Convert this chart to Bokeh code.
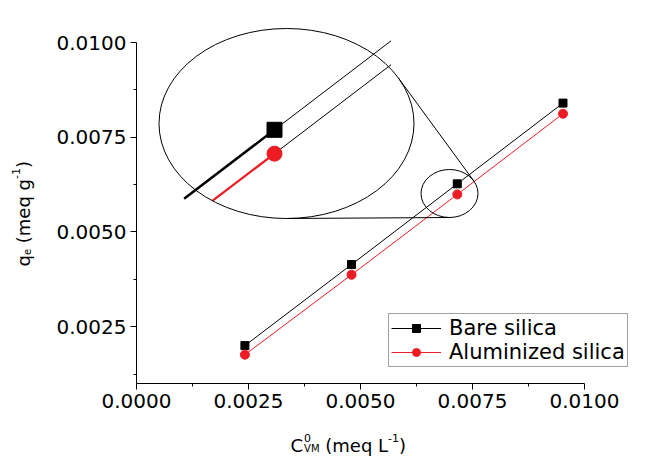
import math
from bokeh.plotting import figure
from bokeh.models import (Range1d, FixedTicker, PrintfTickFormatter, Label,
                          Legend, LegendItem, LinearAxis)
from bokeh.embed import file_html
from bokeh.resources import INLINE

# ---------------- data ----------------
c0_vm = [0.00242, 0.00480, 0.00716, 0.00952]          # C0_VM (meq/L)
qe_bare = [0.00200, 0.00414, 0.00627, 0.00840]         # Bare silica
qe_alum = [0.00176, 0.00387, 0.00599, 0.00812]         # Aluminized silica
x_ticks = [0.0, 0.0025, 0.005, 0.0075, 0.01]
x_minor = [0.00125, 0.00375, 0.00625, 0.00875]
y_ticks = [0.0025, 0.005, 0.0075, 0.01]
y_minor = [0.00125, 0.00375, 0.00625, 0.00875]
series_names = ["Bare silica", "Aluminized silica"]

# ---------------- layout (frame covers whole canvas; axes fixed inside) ----------------
W, H = 665, 456
AX_L, AX_R = 136, 584        # pixel x of 0 and 0.01
AX_B, AX_T = 383, 42         # pixel y of 0.001 and 0.01
PX_X = 0.01 / (AX_R - AX_L)
PX_Y = 0.009 / (AX_B - AX_T)
RED = "#ED1C24"
FONT = "DejaVu Sans"


def xd(px):
    return (px - AX_L) * PX_X


def yd(py):
    return 0.001 + (AX_B - py) * PX_Y


p = figure(width=W, height=H, output_backend="svg", toolbar_location=None,
           x_range=Range1d(xd(0), xd(W)), y_range=Range1d(yd(H), yd(0)),
           x_axis_location=None, y_axis_location=None,
           min_border_left=0, min_border_right=0,
           min_border_top=0, min_border_bottom=0)
p.outline_line_color = None
p.background_fill_color = "white"
p.border_fill_color = "white"
for g in p.grid:
    g.visible = False

xaxis = LinearAxis(fixed_location=0.001)
yaxis = LinearAxis(fixed_location=0.0)
p.add_layout(xaxis, "below")
p.add_layout(yaxis, "left")

for ax, ticks, minor, bnds in ((xaxis, x_ticks, x_minor, (0.0, 0.01)),
                               (yaxis, y_ticks, y_minor, (0.001, 0.01))):
    ax.ticker = FixedTicker(ticks=ticks, minor_ticks=minor)
    ax.formatter = PrintfTickFormatter(format="%.4f")
    ax.bounds = bnds
    ax.axis_line_color = "black"
    ax.axis_line_width = 1
    ax.major_tick_line_color = "black"
    ax.minor_tick_line_color = "black"
    ax.major_tick_in = 0
    ax.major_tick_out = 6
    ax.minor_tick_in = 0
    ax.minor_tick_out = 3
    ax.major_label_text_font = FONT
    ax.major_label_text_font_size = "20px"
    ax.major_label_text_color = "black"
    ax.major_label_standoff = 4

# ---------------- main series ----------------
l1 = p.line(c0_vm, qe_bare, line_color="black", line_width=1)
s1 = p.scatter(c0_vm, qe_bare, marker="square", size=8,
               fill_color="black", line_color="black")
l2 = p.line(c0_vm, qe_alum, line_color=RED, line_width=1)
s2 = p.scatter(c0_vm, qe_alum, marker="circle", size=9,
               fill_color=RED, line_color=RED)

# ---------------- inset (magnified view of 3rd point) ----------------
K = 2.25
IAX, IAY = xd(274), yd(129.3)
x3, yb3, ya3 = c0_vm[2], qe_bare[2], qe_alum[2]


def ix(x):
    return IAX + K * (x - x3)


def iy(y):
    return IAY + K * (y - yb3)


def along(xa, ya, xb, yb, f):
    return xa + f * (xb - xa), ya + f * (yb - ya)


bx0, by0 = along(ix(x3), iy(yb3), ix(c0_vm[1]), iy(qe_bare[1]), 0.38)
p.line([bx0, ix(x3)], [by0, iy(yb3)], line_color="black", line_width=2.5)
bx1, by1 = along(ix(x3), iy(yb3), ix(c0_vm[3]), iy(qe_bare[3]), 0.49)
p.line([ix(x3), bx1], [iy(yb3), by1], line_color="black", line_width=1)
rx0, ry0 = along(ix(x3), iy(ya3), ix(c0_vm[1]), iy(qe_alum[1]), 0.26)
p.line([rx0, ix(x3)], [ry0, iy(ya3)], line_color=RED, line_width=2.2)
rx1, ry1 = along(ix(x3), iy(ya3), ix(c0_vm[3]), iy(qe_alum[3]), 0.49)
p.line([ix(x3), rx1], [iy(ya3), ry1], line_color="black", line_width=1)
p.scatter([ix(x3)], [iy(yb3)], marker="square", size=15,
          fill_color="black", line_color="black")
p.scatter([ix(x3)], [iy(ya3)], marker="circle", size=15,
          fill_color=RED, line_color=RED)

E1 = (286.0, 123.0, 127.5, 95.0)   # big lens: cx, cy, a, b (pixels)
E2 = (449.0, 193.0, 28.5, 24.0)    # small zoom ring
for cx, cy, a, b in (E1, E2):
    p.ellipse(x=[xd(cx)], y=[yd(cy)], width=[2 * a * PX_X],
              height=[2 * b * PX_Y],
              fill_color=None, line_color="black", line_width=1)


def support(e, t):
    cx, cy, a, b = e
    return math.sqrt((a * math.cos(t)) ** 2 + (b * math.sin(t)) ** 2)


def f(t):
    return (math.cos(t) * (E1[0] - E2[0]) + math.sin(t) * (E1[1] - E2[1])
            + support(E1, t) - support(E2, t))


lo, hi = math.radians(-70), math.radians(-20)
for _ in range(60):
    mid = 0.5 * (lo + hi)
    if f(lo) * f(mid) <= 0:
        hi = mid
    else:
        lo = mid
t = 0.5 * (lo + hi)


def tpt(e, t):
    cx, cy, a, b = e
    s = support(e, t)
    return cx + a * a * math.cos(t) / s, cy + b * b * math.sin(t) / s


pa, pb = tpt(E1, t), tpt(E2, t)
p.line([xd(pa[0]), xd(pb[0])], [yd(pa[1]), yd(pb[1])],
       line_color="black", line_width=1)
p.line([xd(E1[0]), xd(E2[0])], [yd(E1[1] + E1[3]), yd(E2[1] + E2[3])],
       line_color="black", line_width=1)

# ---------------- legend ----------------
legend = Legend(items=[LegendItem(label=series_names[0], renderers=[l1, s1]),
                       LegendItem(label=series_names[1], renderers=[l2, s2])],
                location=(388, H - 367))
legend.label_text_font = FONT
legend.label_text_font_size = "21px"
legend.label_text_color = "black"
legend.glyph_width = 50
legend.glyph_height = 20
legend.label_height = 20
legend.label_standoff = 8
legend.spacing = 0
legend.padding = 2
legend.margin = 0
legend.border_line_color = "#444444"
legend.border_line_width = 1.5
legend.background_fill_color = "white"
legend.background_fill_alpha = 1.0
p.add_layout(legend)


# ---------------- axis titles (real text, with sub/superscripts) ----------------
def lab(x, y, text, size, angle=0.0):
    p.add_layout(Label(x=x, y=y, text=text, text_font=FONT,
                       text_font_size=f"{size}px", text_color="black",
                       text_align="left", text_baseline="alphabetic",
                       angle=angle))


SP = 0.318  # width of a space (em)

# x title: C^0_VM (meq L^-1)
bx, by = 290.0, 445.0
lab(xd(bx), yd(by), "C", 18)
bx += 0.698 * 18 + 1
lab(xd(bx), yd(by - 8), "0", 11)
lab(xd(bx), yd(by + 3), "VM", 10)
bx += (0.684 + 0.863) * 10 + SP * 18
lab(xd(bx), yd(by), "(meq L", 18)
bx += (0.39 + 0.974 + 0.615 + 0.635 + 0.318 + 0.557) * 18
lab(xd(bx), yd(by - 8), "-1", 11)
bx += (0.361 + 0.636) * 11
lab(xd(bx), yd(by), ")", 18)

# y title: q_e (meq g^-1), rotated
A = math.pi / 2
yx, yy = 23.0, 266.0
lab(xd(yx), yd(yy), "q", 18, A)
yy -= 0.635 * 18
lab(xd(yx + 3), yd(yy), "e", 10, A)
yy -= 0.615 * 10 + SP * 18
lab(xd(yx), yd(yy), "(meq g", 18, A)
yy -= (0.39 + 0.974 + 0.615 + 0.635 + 0.318 + 0.635) * 18
lab(xd(yx - 8), yd(yy), "-1", 11, A)
yy -= (0.361 + 0.636) * 11
lab(xd(yx), yd(yy), ")", 18, A)

open("out.html", "w").write(file_html(p, INLINE))
